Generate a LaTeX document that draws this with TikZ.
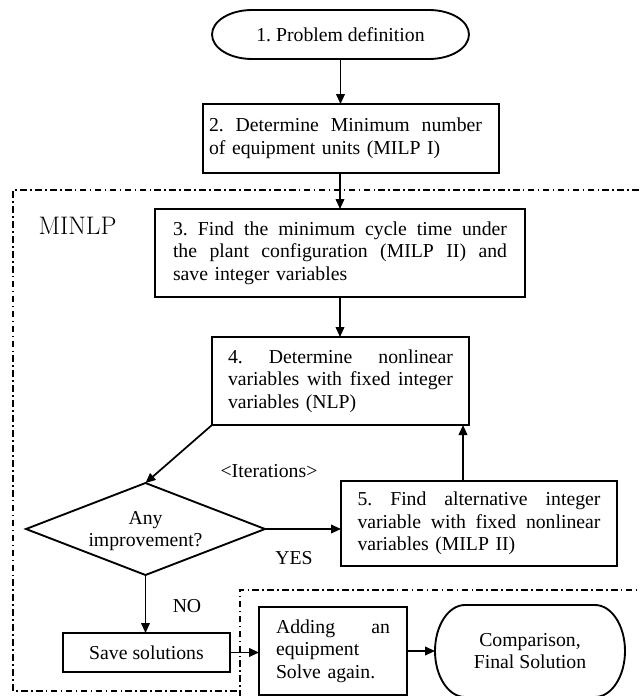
\documentclass[tikz,border=0pt]{standalone}
\usepackage{fontspec}
\newfontfamily\tnr{Liberation Serif}
\usetikzlibrary{shapes.geometric, arrows.meta}
\frenchspacing
\def\pxl{0.75pt}
\newcommand\jline[2]{\leavevmode\hbox to #1{\spaceskip=0.25em plus 1fil\relax #2}}
\newcommand\termshape[3]{%
  \draw[boxline] ([xshift=#2]#1.north west) -- ([xshift=-#2]#1.north east)
    arc[start angle=90, end angle=-90, x radius=#2, y radius=#3]
    -- ([xshift=#2]#1.south west)
    arc[start angle=270, end angle=90, x radius=#2, y radius=#3] -- cycle;}
\begin{document}
\begin{tikzpicture}[x=0.75pt, y=-0.75pt,
  every node/.style={font=\tnr\fontsize{14.8pt}{16.9pt}\selectfont, inner sep=0pt, outer sep=0pt},
  boxline/.style={line width=1.4pt},
  box/.style={draw, boxline, rectangle},
  arr/.style={line width=1.3pt, -{Triangle[length=7.5pt,width=6.5pt]}},
  dd/.style={line width=0.9pt, dash pattern=on 5pt off 2.5pt on 1.2pt off 2.5pt},
  lbl/.style={anchor=base}
]
\useasboundingbox (0,0) rectangle (639,696);

% dash-dot regions
\draw[dd] (639,190) -- (13,190) -- (13,691) -- (240,691);
\draw[dd] (240,697) -- (240,590) -- (639,590);

% 1. terminator
\node[minimum width=257*\pxl, minimum height=49*\pxl] (t1) at (340.5,34.5) {1. Problem definition};
\termshape{t1}{30pt}{18.375pt}

% 2.
\node[box, minimum width=296*\pxl, minimum height=69*\pxl, text width=284*\pxl, inner xsep=6*\pxl, align=left] (b2) at (351,138.5)
  {\jline{204.75pt}{2. Determine Minimum number}\\of equipment units (MILP I)};

% MINLP label
\node[lbl, font=\rmfamily\fontsize{19pt}{19pt}\selectfont] (minlp) at (77.5,234) {MINLP};

% 3.
\node[box, minimum width=370*\pxl, minimum height=88*\pxl, text width=334*\pxl, inner xsep=18*\pxl, align=left] (b3) at (340,253)
  {\jline{250.5pt}{3. Find the minimum cycle time under}\\\jline{250.5pt}{the plant configuration (MILP II) and}\\save integer variables};

% 4.
\node[box, minimum width=257*\pxl, minimum height=88*\pxl, text width=225*\pxl, inner xsep=16*\pxl, align=left] (b4) at (340.5,381)
  {\jline{168.75pt}{4. Determine nonlinear}\\\jline{168.75pt}{variables with fixed integer}\\variables (NLP)};

% decision
\node[diamond, draw, boxline, minimum width=239*\pxl, minimum height=92*\pxl, inner sep=0pt] (d) at (145.5,529) {};
\node[align=center] (dtxt) at (145.5,531) {Any\\improvement?};

% 5.
\node[box, minimum width=276*\pxl, minimum height=85*\pxl, text width=243*\pxl, inner xsep=16.5*\pxl, align=left] (b5) at (479,523.5)
  {\jline{182.25pt}{5. Find alternative integer}\\\jline{182.25pt}{variable with fixed nonlinear}\\variables (MILP II)};

% save
\node[box, minimum width=167*\pxl, minimum height=39*\pxl] (sv) at (146.5,652.5) {Save solutions};

% adding
\node[box, minimum width=148*\pxl, minimum height=88*\pxl, text width=114*\pxl, inner xsep=17*\pxl, align=left] (ad) at (333,651)
  {\jline{85.5pt}{Adding an}\\equipment\\Solve again.};

% comparison terminator
\node[minimum width=190*\pxl, minimum height=92*\pxl, align=center] (cmp) at (530,651) {Comparison,\\Final Solution};
\termshape{cmp}{22.5pt}{34.5pt}

% labels
\node[lbl] (iter) at (269,477) {<Iterations>};
\node[lbl] (yes) at (294,564) {YES};
\node[lbl] (no) at (187,612) {NO};

% connectors
\draw[arr] (t1.south) -- (t1.south |- b2.north);
\draw[arr] (b3.north |- b2.south) -- (b3.north);
\draw[arr] (b3.south) -- (b3.south |- b4.north);
\draw[arr] (b4.south west) -- (d.north);
\draw[arr] (d.east) -- (d.east -| b5.west);
\draw[arr] ([xshift=-4.5pt]b4.south east |- b5.north) -- ([xshift=-4.5pt]b4.south east);
\draw[arr] (d.south) -- (d.south |- sv.north);
\draw[arr] (sv.east) -- (sv.east -| ad.west);
\draw[arr] (ad.east) -- (ad.east -| cmp.west);
\end{tikzpicture}
\end{document}
